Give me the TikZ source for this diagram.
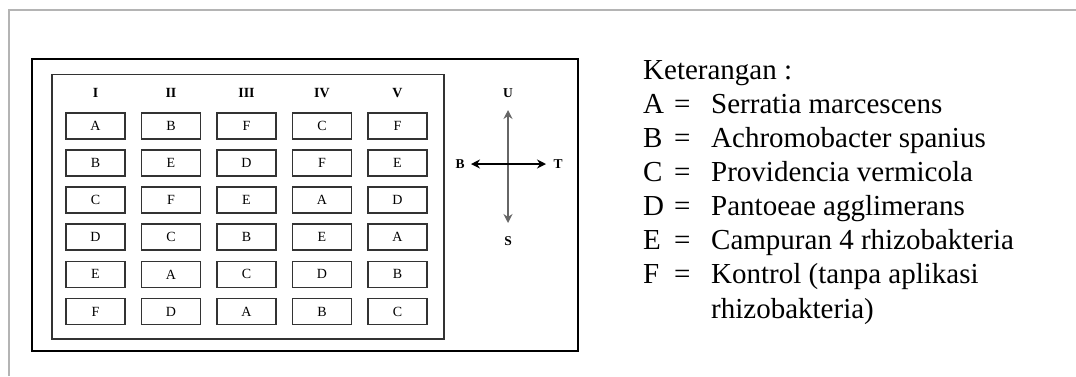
\documentclass[tikz,border=0pt]{standalone}
\usepackage{fontspec}
\setmainfont{Liberation Serif}
\usetikzlibrary{arrows.meta}
\definecolor{framegray}{HTML}{B4B4B4}
\definecolor{boxline}{HTML}{333333}
\begin{document}
\begin{tikzpicture}[x=1pt,y=-1pt,
  plot/.style={draw=boxline,line width=1.8pt,minimum width=59pt,minimum height=26pt,
    inner sep=0pt,font=\fontsize{14}{16}\selectfont},
  colhead/.style={inner sep=0pt,font=\fontsize{14}{16}\selectfont\bfseries},
  dirlabel/.style={inner sep=0pt,font=\fontsize{13.5}{15}\selectfont\bfseries},
  legend/.style={inner sep=0pt,anchor=base west,font=\fontsize{29}{34}\selectfont},
  twotip/.style={{Stealth[length=9pt,width=9pt,inset=3pt]}-{Stealth[length=9pt,width=9pt,inset=3pt]}}
]
\useasboundingbox (0,0) rectangle (1076,376);
% page frame
\draw[framegray,line width=2pt] (9,376) -- (9,10) -- (1076,10);
% field and plot area
\draw[black,line width=2.6pt] (32,59) rectangle (578,351);
\draw[boxline,line width=1.8pt] (52,74.5) rectangle (444,339);
% column headings
\foreach \h [count=\i from 0] in {I,II,III,IV,V}
  \node[colhead] (h\i) at (95.5+75.5*\i,93) {\h};
% plots, row by row
\foreach \row [count=\j from 0] in {{A,B,F,C,F},{B,E,D,F,E},{C,F,E,A,D},{D,C,B,E,A},{E,A,C,D,B},{F,D,A,B,C}}
  \foreach \t [count=\i from 0] in \row
    \node[plot] (p\j-\i) at (95.5+75.5*\i,126+37.1*\j) {\t};
% compass
\coordinate (cN) at (508,110);
\coordinate (cS) at (508,223);
\coordinate (cW) at (471,164);
\coordinate (cE) at (546,164);
\draw[twotip,draw=black!60,fill=black!80,line width=2.6pt] (cS) -- (cN);
\draw[twotip,line width=1.4pt] (cW) -- (cE);
\node[dirlabel] (lU) at (508,93) {U};
\node[dirlabel] (lS) at (508,241) {S};
\node[dirlabel] (lB) at (460,164) {B};
\node[dirlabel] (lT) at (558,164) {T};
% legend
\node[legend] (k0) at (643,79) {Keterangan :};
\foreach \l/\d [count=\j from 1] in {A/Serratia marcescens,B/Achromobacter spanius,C/Providencia vermicola,D/Pantoeae agglimerans,E/Campuran 4 rhizobakteria,F/Kontrol (tanpa aplikasi}{
  \node[legend] (kl\j) at (643,79+34.1*\j) {\l};
  \node[legend] (ke\j) at (674,79+34.1*\j) {=};
  \node[legend] (kd\j) at (711,79+34.1*\j) {\d};
}
\node[legend] (kd7) at (711,318) {rhizobakteria)};
\end{tikzpicture}
\end{document}
